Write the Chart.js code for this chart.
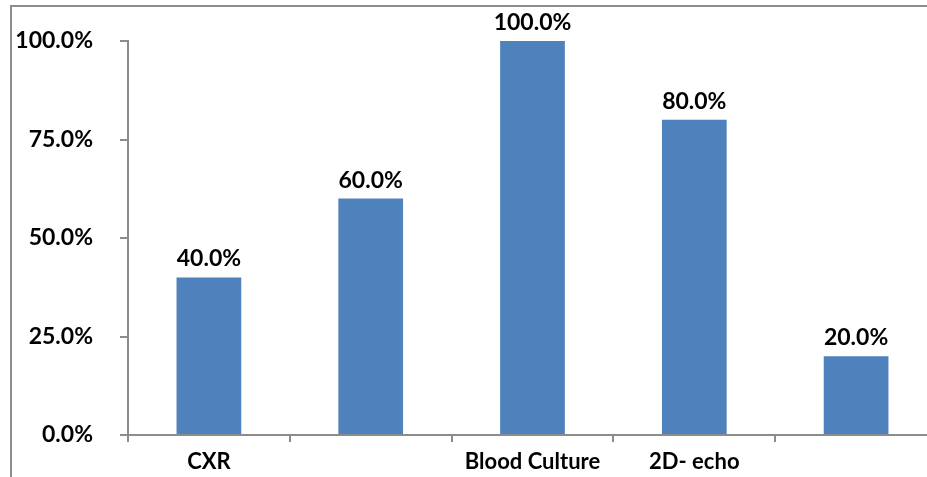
<!DOCTYPE html>
<html>
<head>
<meta charset="utf-8">
<script src="https://cdn.jsdelivr.net/npm/chart.js@4/dist/chart.umd.min.js"></script>
<style>
  html, body { margin: 0; padding: 0; overflow: hidden; background: #fff; }
  #frame { position: absolute; left: 10px; top: 5px; width: 940px; height: 480px;
           border-left: 2px solid #8c8c8c; border-top: 2px solid #8c8c8c; }
  #wrap { position: absolute; left: 0; top: 0; width: 940px; height: 477px; }
</style>
</head>
<body>
<div id="frame"></div>
<div id="wrap"><canvas id="c" width="940" height="477"></canvas></div>
<script>
// Diagnostic yield per investigation
const categories = ["CXR", "", "Blood Culture", "2D- echo", ""];
const yieldShare = [0.40, 0.60, 1.00, 0.80, 0.20];
const yTicks = [0, 0.25, 0.5, 0.75, 1.0];

const FONT = "Lato, 'Liberation Sans', sans-serif";
const pct = v => (v * 100).toFixed(1) + "%";

// Writes each bar's value above it
const valueLabels = {
  id: "valueLabels",
  afterDatasetsDraw(chart) {
    const ctx = chart.ctx;
    const meta = chart.getDatasetMeta(0);
    ctx.save();
    ctx.font = "bold 23px " + FONT;
    ctx.fillStyle = "#000";
    ctx.textAlign = "center";
    ctx.textBaseline = "alphabetic";
    meta.data.forEach((bar, i) => {
      ctx.fillText(pct(yieldShare[i]), bar.x, bar.y - 11);
    });
    ctx.restore();
  }
};

new Chart(document.getElementById("c"), {
  type: "bar",
  data: {
    labels: categories,
    datasets: [{
      data: yieldShare,
      backgroundColor: "#4F81BD",
      borderWidth: 0,
      barPercentage: 0.4,
      categoryPercentage: 1.0
    }]
  },
  options: {
    responsive: false,
    animation: false,
    layout: { padding: { left: 0, right: 3, top: 41, bottom: 0 } },
    plugins: { legend: { display: false }, tooltip: { enabled: false } },
    scales: {
      x: {
        afterFit(s) { s.height = 42; },
        grid: { offset: true, drawOnChartArea: false, drawTicks: true, tickLength: 7,
                color: "#8c8c8c", lineWidth: 2 },
        border: { color: "#8c8c8c", width: 2 },
        ticks: { color: "#000", font: { family: FONT, size: 22, weight: "bold" },
                 padding: 7, autoSkip: false, maxRotation: 0 }
      },
      y: {
        min: 0, max: 1,
        afterFit(s) { s.width = 128; },
        afterBuildTicks(s) { s.ticks = yTicks.map(v => ({ value: v })); },
        grid: { drawOnChartArea: false, drawTicks: true, tickLength: 8,
                color: "#8c8c8c", lineWidth: 2 },
        border: { color: "#8c8c8c", width: 2 },
        ticks: { color: "#000", font: { family: FONT, size: 23, weight: "bold" },
                 padding: 27, callback: v => pct(v) }
      }
    }
  },
  plugins: [valueLabels]
});
</script>
</body>
</html>
